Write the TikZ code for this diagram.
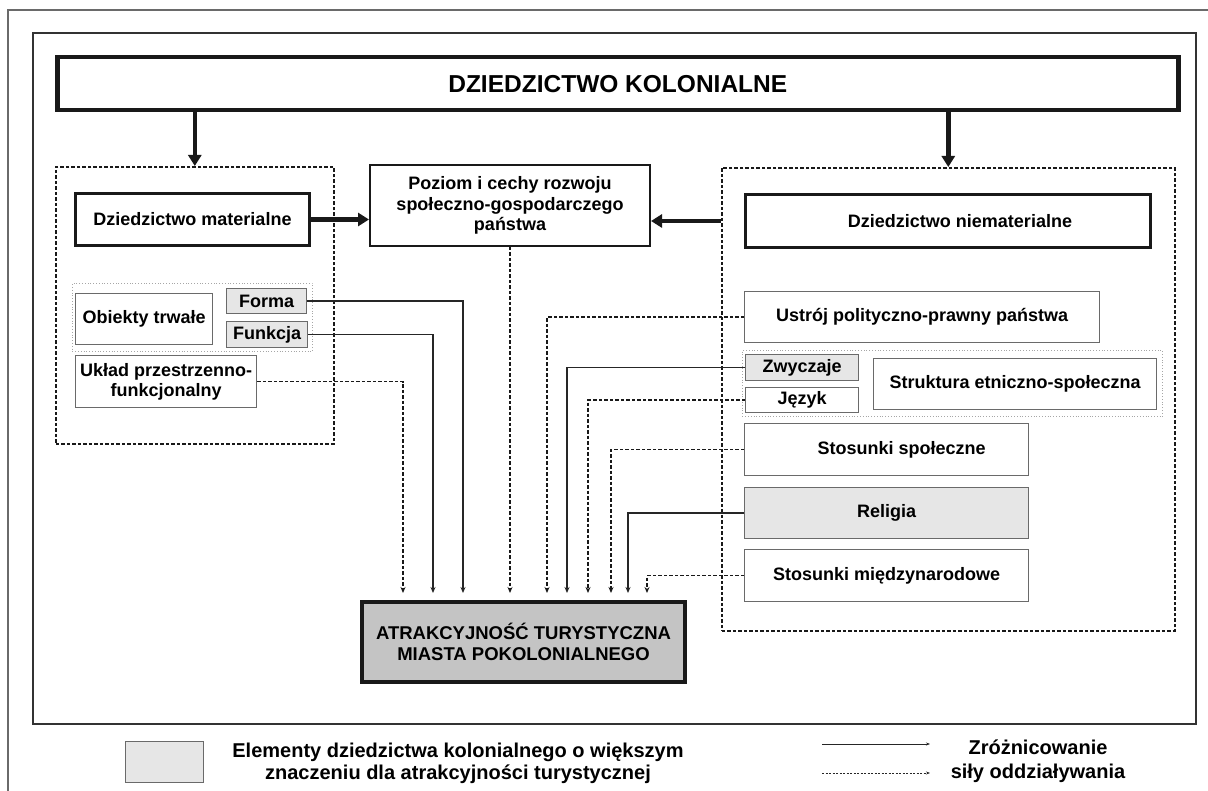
\documentclass[tikz,border=0pt]{standalone}
\usepackage{fontspec}
\setmainfont{Liberation Sans}
\usepackage{tikz}
\usetikzlibrary{arrows.meta,positioning}
\definecolor{boxgray}{HTML}{E6E6E6}
\definecolor{atrgray}{HTML}{C4C4C4}
\definecolor{edgegray}{HTML}{6A6A6A}
\newcommand{\lblfont}{\fontsize{18}{20.5}\selectfont\bfseries}

\begin{document}
\begin{tikzpicture}[x=1pt, y=-1pt,
   box/.style={draw=edgegray, line width=1.3pt, fill=white, anchor=north west, inner sep=0pt, align=center, font=\lblfont},
   grey/.style={box, fill=boxgray},
   heavy/.style={box, draw=black!90},
   grp/.style={draw=black!90, line width=1.6pt, dash pattern=on 3.5pt off 2pt, anchor=north west, inner sep=0pt},
   subgrp/.style={draw=black!35, line width=0.8pt, dotted, anchor=north west, inner sep=0pt},
   solidarr/.style={draw=black!85, line width=1.4pt, -{Stealth[length=6pt,width=5pt]}, shorten >=7pt},
   dotarr/.style={solidarr, draw=black!90, line width=1.6pt, dash pattern=on 3.5pt off 2pt},
   bigarr/.style={draw=black!90, line width=4.5pt, -{Triangle[length=11pt,width=13pt]}},
   legarr/.style={draw=black!85, line width=1pt, -{Stealth[length=4pt,width=3pt]}}]
   \useasboundingbox (0,0) rectangle (1208,791);

   % frames
   \draw[edgegray, line width=1.2pt] (8,791) -- (8,10) -- (1208,10);
   \draw[black!80, line width=2pt] (33,33) rectangle (1196,724);

   \node[heavy, line width=4.5pt, minimum width=1121pt, minimum height=53pt, font=\fontsize{24.5}{27}\selectfont\bfseries] (title) at (55,55) {DZIEDZICTWO KOLONIALNE};

   % material / non-material groups
   \node[grp, minimum width=278pt, minimum height=277pt] (matgrp) at (55,166) {};
   \node[grp, minimum width=453pt, minimum height=463pt] (niematgrp) at (721,167) {};
   \draw[bigarr] (title.south -| matgrp.north) -- (matgrp.north);
   \draw[bigarr] (title.south -| niematgrp.north) -- (niematgrp.north);

   \node[heavy, line width=3pt, minimum width=234pt, minimum height=52pt] (mat) at (74,192) {Dziedzictwo materialne};
   \node[heavy, line width=2pt, minimum width=280pt, minimum height=81pt] (poziom) at (369,164) {Poziom i cechy rozwoju\\społeczno-gospodarczego\\państwa};
   \node[heavy, line width=3pt, minimum width=405pt, minimum height=53pt] (niemat) at (744,193) {\hspace*{24pt}Dziedzictwo niematerialne};
   \draw[bigarr] (mat.east) -- (mat.east -| poziom.west);
   \draw[bigarr] (niemat.west -| niematgrp.west) -- (niemat.west -| poziom.east);

   \node[subgrp, minimum width=240pt, minimum height=68pt] (obgrp) at (72,283) {};
   \node[box, minimum width=137pt, minimum height=51pt] (obiekty) at (75,293) {Obiekty trwałe};
   \node[grey, minimum width=80pt, minimum height=25pt] (forma) at (226,288) {Forma};
   \node[grey, minimum width=81pt, minimum height=26pt] (funkcja) at (226,321) {Funkcja};
   \node[box, minimum width=181pt, minimum height=52pt] (uklad) at (75,355) {Układ przestrzenno-\\funkcjonalny};

   \node[box, minimum width=355pt, minimum height=51pt] (ustroj) at (744,291) {Ustrój polityczno-prawny państwa};
   \node[subgrp, minimum width=420pt, minimum height=66pt] (zwgrp) at (742,350) {};
   \node[grey, minimum width=113pt, minimum height=26pt] (zwyczaje) at (745,354) {Zwyczaje};
   \node[box, minimum width=113pt, minimum height=25pt] (jezyk) at (745,387) {Język};
   \node[box, minimum width=283pt, minimum height=51pt] (struktura) at (873,358) {Struktura etniczno-społeczna};
   \node[box, minimum width=284pt, minimum height=52pt] (stspol) at (744,423) {\hspace*{30pt}Stosunki społeczne};
   \node[grey, minimum width=284pt, minimum height=51pt] (religia) at (744,487) {Religia};
   \node[box, minimum width=284pt, minimum height=52pt] (stmiedz) at (744,549) {Stosunki międzynarodowe};

   \node[heavy, fill=atrgray, line width=4pt, minimum width=323pt, minimum height=80pt, font=\fontsize{18.5}{21}\selectfont\bfseries] (atr) at (360,600) {ATRAKCYJNOŚĆ TURYSTYCZNA\\MIASTA POKOLONIALNEGO};

   % influences
   \draw[dotarr] (uklad.east) -| ([xshift=43pt]atr.north west);
   \draw[solidarr] (funkcja.east) -| ([xshift=73pt]atr.north west);
   \draw[solidarr] (forma.east) -| ([xshift=103pt]atr.north west);
   \draw[dotarr] (poziom.south) -- (poziom.south |- atr.north);
   \draw[dotarr] (ustroj.west) -| ([xshift=187pt]atr.north west);
   \draw[solidarr] (zwyczaje.west) -| ([xshift=207pt]atr.north west);
   \draw[dotarr] (jezyk.west) -| ([xshift=228pt]atr.north west);
   \draw[dotarr] (stspol.west) -| ([xshift=251pt]atr.north west);
   \draw[solidarr] (religia.west) -| ([xshift=268pt]atr.north west);
   \draw[dotarr] (stmiedz.west) -| ([xshift=287pt]atr.north west);

   % legend
   \node[grey, minimum width=78pt, minimum height=41pt] (legbox) at (125,741) {};
   \node[font=\fontsize{20}{22}\selectfont\bfseries, align=center] (legtext) at (458,763) {Elementy dziedzictwa kolonialnego o większym\\znaczeniu dla atrakcyjności turystycznej};
   \coordinate (solida) at (822,744);
   \coordinate (solidb) at (930,744);
   \coordinate (dota) at (822,773);
   \coordinate (dotb) at (930,773);
   \draw[legarr] (solida) -- (solidb);
   \draw[legarr, dash pattern=on 2pt off 1.5pt] (dota) -- (dotb);
   \node[font=\fontsize{20}{24}\selectfont\bfseries, align=center] (legkey) at (1038,761) {Zróżnicowanie\\siły oddziaływania};
\end{tikzpicture}
\end{document}
